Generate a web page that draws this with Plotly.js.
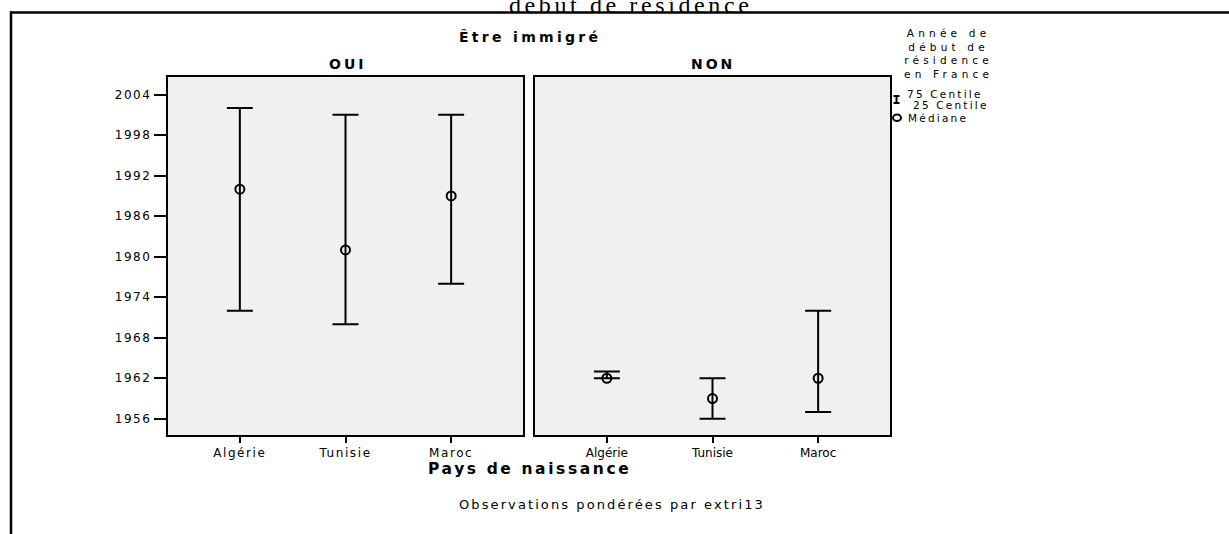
<!DOCTYPE html>
<html><head><meta charset="utf-8">
<script src="https://cdn.plot.ly/plotly-3.0.1.min.js"></script>
<style>
html,body{margin:0;padding:0;background:#fff;overflow:hidden}
#chart{width:1229px;height:534px}
.xtick text{letter-spacing:1.6px}
.ytick text{letter-spacing:1.6px}
</style></head><body><div id="chart"></div>
<script>
// ---- data ----
const countries = ['Algérie', 'Tunisie', 'Maroc'];
const panelLabels = ['OUI', 'NON'];
const q25_oui = [1972, 1970, 1976];
const med_oui = [1990, 1981, 1989];
const q75_oui = [2002, 2001, 2001];
const q25_non = [1962, 1956, 1957];
const med_non = [1962, 1959, 1962];
const q75_non = [1963, 1962, 1972];
const yTicks = [1956, 1962, 1968, 1974, 1980, 1986, 1992, 1998, 2004];
const legendTitleLines = ['Année de', 'début de', 'résidence', 'en France'];
const legendItems = ['75 Centile', '25 Centile', 'Médiane'];

// ---- helpers ----
const W = 1229, H = 534;
const px = x => x / W;
const py = y => 1 - y / H;
const SANS = 'DejaVu Sans';

function mkTrace(q25, med, q75, xa, ya) {
  return {
    type: 'scatter', mode: 'markers', x: countries, y: med, xaxis: xa, yaxis: ya,
    marker: {symbol: 'circle-open', size: 9, color: '#000', line: {width: 2, color: '#000'}},
    error_y: {type: 'data', symmetric: false,
      array: q75.map((v, i) => v - med[i]),
      arrayminus: med.map((v, i) => v - q25[i]),
      color: '#000', thickness: 2, width: 13},
    showlegend: false, hoverinfo: 'skip', cliponaxis: false
  };
}

const data = [
  mkTrace(q25_oui, med_oui, q75_oui, 'x', 'y'),
  mkTrace(q25_non, med_non, q75_non, 'x2', 'y2')
];

const yr = [1953.6, 2006.6];
const ydom = [py(435), py(77)];
const tickFont = {family: SANS, size: 12, color: '#000'};
const baseX = {
  type: 'category', range: [-0.68, 2.68], showline: true, mirror: true, linewidth: 2, linecolor: '#000',
  ticks: 'outside', ticklen: 6, tickwidth: 2, tickcolor: '#000', tickfont: tickFont,
  showgrid: false, zeroline: false, fixedrange: true
};
const baseY = {
  range: yr, domain: ydom, showline: true, mirror: true, linewidth: 2, linecolor: '#000',
  showgrid: false, zeroline: false, fixedrange: true, tickfont: tickFont
};

function ann(text, x, y, size, spacing, opts) {
  return Object.assign({
    xref: 'paper', yref: 'paper', x: px(x), y: py(y), showarrow: false,
    xanchor: 'center', yanchor: 'middle',
    text: '<span style="letter-spacing:' + spacing + 'px">' + text + '</span>',
    font: {family: SANS, size: size, color: '#000'}
  }, opts || {});
}

const annotations = [
  ann('début de résidence', 630, 20, 24, 3.6, {yanchor: 'bottom', font: {family: 'Liberation Serif', size: 24, color: '#000'}}),
  ann('<b>Être immigré</b>', 530, 37, 14, 3.3),
  ann('<b>' + panelLabels[0] + '</b>', 347, 64, 14, 3),
  ann('<b>' + panelLabels[1] + '</b>', 713, 64, 14, 3),
  ann('<b>Pays de naissance</b>', 529, 469, 15.5, 2.6),
  ann('Observations pondérées par extri13', 612, 504, 13, 2.1),
  ann(legendTitleLines.join('<br>'), 948, 53, 10.5, 4.2)
];
const itemPos = [[905, 94], [911, 105], [906, 118]];
legendItems.forEach((t, i) => annotations.push(ann(t, itemPos[i][0], itemPos[i][1], 10.5, 2.2, {xanchor: 'left'})));

const lineStyle = {color: '#000', width: 2};
const shapes = [
  {type: 'line', xref: 'paper', yref: 'paper', x0: px(10), x1: 1.01, y0: py(12.5), y1: py(12.5), line: {color: '#000', width: 2.5}},
  {type: 'line', xref: 'paper', yref: 'paper', x0: px(11), x1: px(11), y0: py(11.5), y1: -0.01, line: {color: '#000', width: 2.5}},
  // legend glyph: I (range)
  {type: 'line', xref: 'paper', yref: 'paper', x0: px(896.5), x1: px(896.5), y0: py(96), y1: py(103), line: lineStyle},
  {type: 'line', xref: 'paper', yref: 'paper', x0: px(893.5), x1: px(899.5), y0: py(96), y1: py(96), line: lineStyle},
  {type: 'line', xref: 'paper', yref: 'paper', x0: px(893.5), x1: px(899.5), y0: py(103), y1: py(103), line: lineStyle},
  // legend glyph: O (median)
  {type: 'circle', xref: 'paper', yref: 'paper', x0: px(893), x1: px(901), y0: py(114.5), y1: py(121), line: lineStyle}
];

const layout = {
  width: W, height: H, margin: {l: 0, r: 0, t: 0, b: 0},
  paper_bgcolor: '#fff', plot_bgcolor: '#f0f0f0', showlegend: false,
  xaxis: Object.assign({}, baseX, {domain: [px(168), px(523)], anchor: 'y'}),
  xaxis2: Object.assign({}, baseX, {domain: [px(535), px(890)], anchor: 'y2'}),
  yaxis: Object.assign({}, baseY, {anchor: 'x', tickvals: yTicks, ticktext: yTicks.map(String),
    ticks: 'outside', ticklen: 12, tickwidth: 2, tickcolor: '#000'}),
  yaxis2: Object.assign({}, baseY, {anchor: 'x2', showticklabels: false, ticks: ''}),
  annotations: annotations, shapes: shapes
};

Plotly.newPlot('chart', data, layout, {staticPlot: true, displayModeBar: false});
</script></body></html>
